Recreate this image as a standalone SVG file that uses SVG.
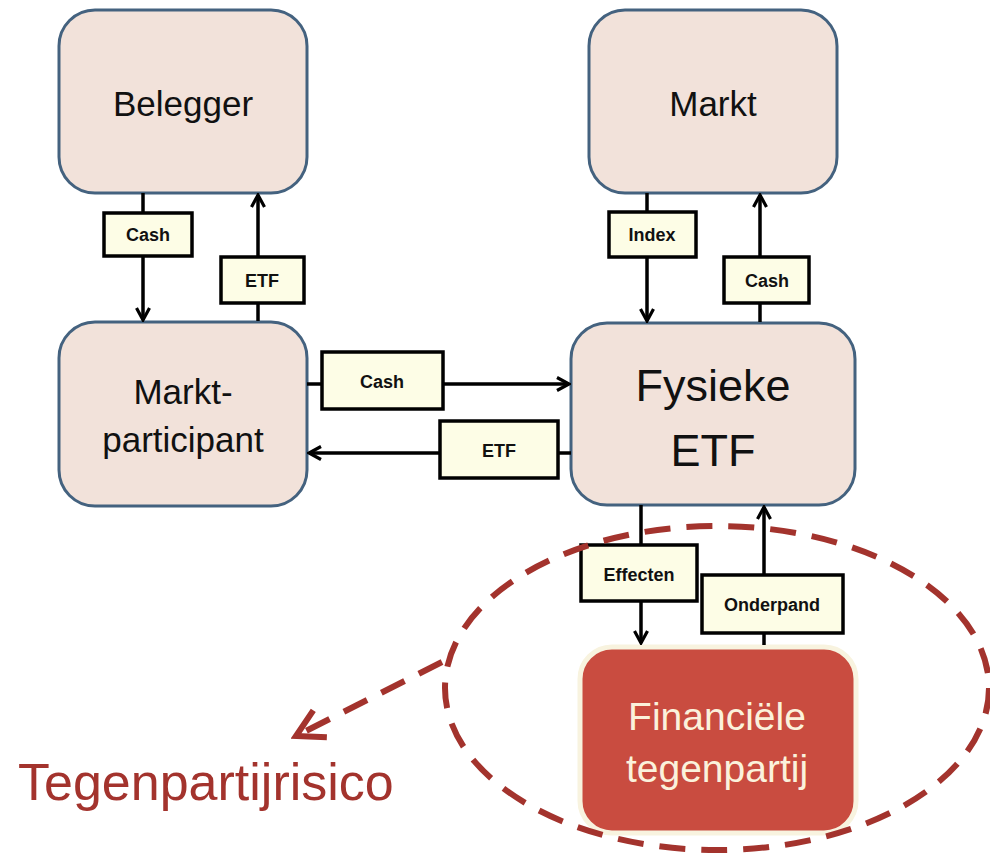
<svg xmlns="http://www.w3.org/2000/svg" width="990" height="855" viewBox="0 0 990 855">
<defs>
<style>
.node{fill:#f2e2da;stroke:#44627f;stroke-width:3}
.nt{font-family:"Liberation Sans",Arial,sans-serif;font-size:35px;fill:#111;text-anchor:middle}
.lbl{fill:#fdfde6;stroke:#000;stroke-width:3.5}
.lt{font-family:"Liberation Sans",Arial,sans-serif;font-size:18px;font-weight:bold;fill:#111;text-anchor:middle}
.ln{stroke:#000;stroke-width:3.5;fill:none}
.red{stroke:#a3332d;stroke-width:6;fill:none;stroke-dasharray:26 16}
</style>
<marker id="ah" viewBox="0 0 16 16" refX="14" refY="8" markerWidth="16" markerHeight="16" markerUnits="userSpaceOnUse" orient="auto">
<path d="M2,1.5 L14,8 L2,14.5" fill="none" stroke="#000" stroke-width="3.2"/>
</marker>
<marker id="rh" viewBox="0 0 12 12" refX="10" refY="6" markerWidth="6" markerHeight="6" orient="auto">
<path d="M1,1 L10,6 L1,11" fill="none" stroke="#a3332d" stroke-width="2"/>
</marker>
</defs>
<rect width="990" height="855" fill="#fff"/>

<g id="belegger"><rect class="node" x="59" y="10" width="248" height="183" rx="36"/><text class="nt" x="183" y="116">Belegger</text></g>
<g id="markt"><rect class="node" x="589" y="10" width="248" height="183" rx="36"/><text class="nt" x="713" y="116">Markt</text></g>
<g id="marktparticipant"><rect class="node" x="59" y="322" width="248" height="184" rx="36"/><text class="nt" x="183" y="404">Markt-</text><text class="nt" x="183" y="452">participant</text></g>
<g id="fysieke-etf"><rect class="node" x="571" y="323" width="284" height="182" rx="36"/><text class="nt" x="713" y="401" style="font-size:45px">Fysieke</text><text class="nt" x="713" y="466" style="font-size:45px">ETF</text></g>
<g id="tegenpartij"><rect x="580" y="647" width="276" height="186" rx="32" fill="#c94c40" stroke="#f8f3df" stroke-width="5"/><text class="nt" x="717" y="730" style="font-size:39px;fill:#fbf2dc">Financiële</text><text class="nt" x="717" y="782" style="font-size:39px;fill:#fbf2dc">tegenpartij</text></g>

<g id="connectors">
<line class="ln" x1="143" y1="193" x2="143" y2="320" marker-end="url(#ah)"/>
<line class="ln" x1="258" y1="321" x2="258" y2="195" marker-end="url(#ah)"/>
<line class="ln" x1="647" y1="193" x2="647" y2="321" marker-end="url(#ah)"/>
<line class="ln" x1="760" y1="322" x2="760" y2="195" marker-end="url(#ah)"/>
<line class="ln" x1="307" y1="384" x2="569" y2="384" marker-end="url(#ah)"/>
<line class="ln" x1="571" y1="453" x2="309" y2="453" marker-end="url(#ah)"/>
<line class="ln" x1="641" y1="505" x2="641" y2="643" marker-end="url(#ah)"/>
<line class="ln" x1="764" y1="645" x2="764" y2="507" marker-end="url(#ah)"/>
<g id="labels">
<rect class="lbl" x="104" y="213" width="88" height="43"/><text class="lt" x="148" y="241">Cash</text>
<rect class="lbl" x="221" y="257" width="83" height="46"/><text class="lt" x="262" y="287">ETF</text>
<rect class="lbl" x="609" y="212" width="87" height="45"/><text class="lt" x="652" y="241">Index</text>
<rect class="lbl" x="724" y="257" width="85" height="46"/><text class="lt" x="767" y="287">Cash</text>
<rect class="lbl" x="322" y="352" width="121" height="57"/><text class="lt" x="382" y="388">Cash</text>
<rect class="lbl" x="440" y="421" width="118" height="57"/><text class="lt" x="499" y="457">ETF</text>
<rect class="lbl" x="581" y="545" width="116" height="56"/><text class="lt" x="639" y="581">Effecten</text>
<rect class="lbl" x="702" y="575" width="141" height="58"/><text class="lt" x="772" y="611">Onderpand</text>
</g>
<ellipse class="red" cx="717" cy="688" rx="272" ry="162"/>
<line class="red" x1="442" y1="662" x2="296" y2="736" stroke-dasharray="22 14" marker-end="url(#rh)"/>
</g>
<text x="18" y="800" style="font-family:'Liberation Sans',Arial,sans-serif;font-size:52px;fill:#a3332d">Tegenpartijrisico</text>
</svg>
